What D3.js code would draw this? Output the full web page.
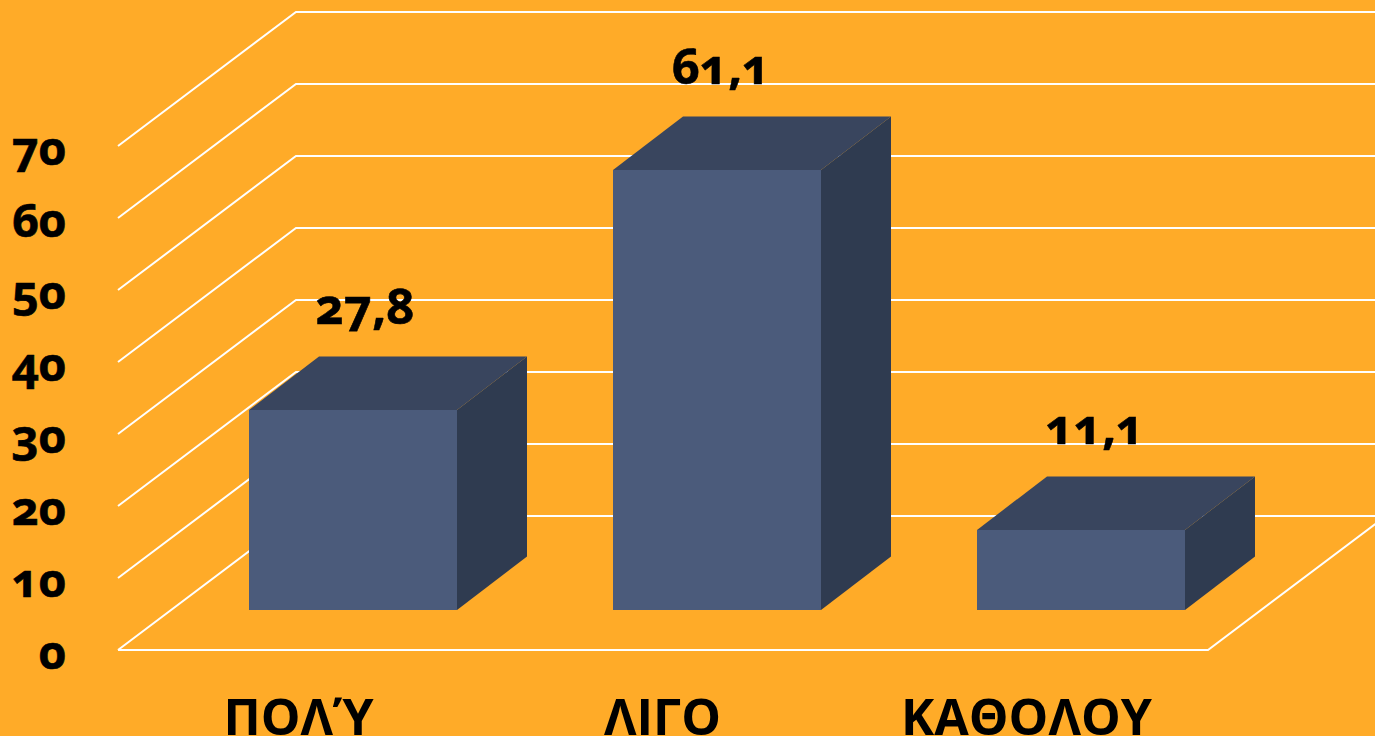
<!DOCTYPE html>
<html><head><meta charset="utf-8">
<script src="https://cdn.jsdelivr.net/npm/d3@7"></script>
<style>
html,body{margin:0;padding:0;background:#FFAB28;overflow:hidden}
svg{display:block}
text{font-family:"Open Sans",sans-serif;fill:#000}
.num{font-weight:700;font-feature-settings:"onum" 1;font-variant-numeric:oldstyle-nums;font-size:49px;stroke:#000;stroke-width:0.6px}
.tick-num{font-size:47px}
.cat{font-weight:700;font-size:50px}
</style></head><body>
<svg id="c" width="1375" height="736"></svg>
<script>
const categories = ["ΠΟΛΎ", "ΛΙΓΟ", "ΚΑΘΟΛΟΥ"];
const values = [27.8, 61.1, 11.1];
const valueLabels = ["27,8", "61,1", "11,1"];
const yTicks = [0, 10, 20, 30, 40, 50, 60, 70];

const W = 1375, H = 736;
const svg = d3.select("#c");
const y = d3.scaleLinear().domain([0, 70]).range([650, 146]);
const x = d3.scaleBand().domain(categories).range([117.5, 1209.5]).paddingInner(0.4286).paddingOuter(0.2143);
const depthX = d3.scaleLinear().domain([0, 1]).range([0, 178]);
const depthY = d3.scaleLinear().domain([0, 1]).range([0, -134]);
const barFront = 0.30, barDepthX = 0.394, barDepthY = 0.4;
const labelNudge = [12, 4, 14];

const grid = svg.append("g");
const line = d3.line();
const xL = 118, xR = 1208;

grid.append("g").selectAll("path").data(yTicks).join("path")
  .attr("fill", "none").attr("stroke", "#fff").attr("stroke-width", 2)
  .attr("d", t => line([[xL, y(t)], [xL + depthX(1), y(t) + depthY(1)], [W + 2, y(t) + depthY(1)]]));
grid.append("path").attr("fill", "none").attr("stroke", "#fff").attr("stroke-width", 2)
  .attr("d", line([[xL, y(0)], [xR, y(0)], [xR + depthX(1), y(0) + depthY(1)]]));

const bars = svg.append("g").selectAll("g").data(categories.map((c, i) => ({c, v: values[i], i}))).join("g");
const corners = d => {
  const x0 = Math.round(x(d.c) + depthX(barFront)), x1 = x0 + Math.round(x.bandwidth());
  const b = Math.round(y(0) + depthY(barFront)), t = Math.round(y(d.v) + depthY(barFront));
  const dx = Math.round(depthX(barDepthX)), dy = depthY(barDepthY);
  return {x0, x1, b, t, dx, dy};
};
bars.append("path").attr("fill", "#2F3B50").attr("d", d => {
  const k = corners(d);
  return line([[k.x1, k.t], [k.x1 + k.dx, k.t + k.dy], [k.x1 + k.dx, k.b + k.dy], [k.x1, k.b]]) + "Z";
});
bars.append("path").attr("fill", "#39455E").attr("d", d => {
  const k = corners(d);
  return line([[k.x0, k.t], [k.x0 + k.dx, k.t + k.dy], [k.x1 + k.dx, k.t + k.dy], [k.x1, k.t]]) + "Z";
});
bars.append("path").attr("fill", "#4B5B7B").attr("d", d => {
  const k = corners(d);
  return line([[k.x0, k.t], [k.x1, k.t], [k.x1, k.b], [k.x0, k.b]]) + "Z";
});
bars.append("text").attr("class", "num").attr("text-anchor", "middle")
  .attr("x", d => { const k = corners(d); return (k.x0 + k.x1) / 2 + labelNudge[d.i]; })
  .attr("y", d => { const k = corners(d); return k.t + k.dy - 32; })
  .text(d => valueLabels[d.i]);

const ay = svg.append("g").attr("transform", "translate(66,0)")
  .call(d3.axisLeft(y).tickValues(yTicks).tickSize(0).tickPadding(0));
ay.select(".domain").remove();
ay.attr("font-family", null).attr("font-size", null);
ay.selectAll("text").attr("class", "num tick-num").attr("fill", "#000").attr("dy", "0.4em");

const ax = svg.append("g").attr("transform", "translate(-1,735)")
  .call(d3.axisBottom(x).tickSize(0).tickPadding(0));
ax.select(".domain").remove();
ax.attr("font-family", null).attr("font-size", null);
ax.selectAll("text").attr("class", "cat").attr("fill", "#000").attr("y", 0).attr("dy", 0);
</script></body></html>
